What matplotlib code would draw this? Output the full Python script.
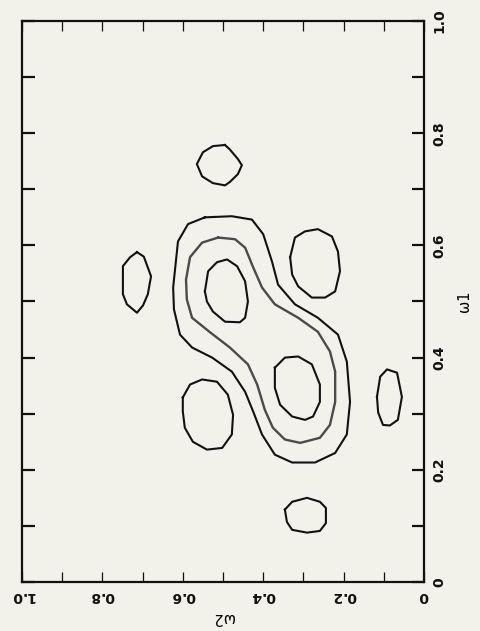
import matplotlib.pyplot as plt
from matplotlib.ticker import MultipleLocator

# contour lines, as (w2, w1) pairs
outer_w2 = [0.545, 0.478, 0.428, 0.400, 0.378, 0.363, 0.321, 0.264, 0.214, 0.192, 0.184, 0.192, 0.221, 0.271,
            0.328, 0.371, 0.403, 0.425, 0.445, 0.478, 0.527, 0.577, 0.607, 0.622, 0.624, 0.612, 0.587, 0.545]
outer_w1 = [0.650, 0.652, 0.646, 0.620, 0.571, 0.530, 0.495, 0.471, 0.441, 0.393, 0.321, 0.263, 0.230, 0.213,
            0.213, 0.227, 0.263, 0.304, 0.339, 0.375, 0.400, 0.418, 0.441, 0.486, 0.525, 0.607, 0.638, 0.650]

mid_w2 = [0.512, 0.470, 0.445, 0.425, 0.403, 0.371, 0.313, 0.264, 0.234, 0.221, 0.221, 0.234, 0.259, 0.308,
          0.346, 0.376, 0.396, 0.415, 0.438, 0.483, 0.532, 0.577, 0.590, 0.592, 0.582, 0.552, 0.512]
mid_w1 = [0.614, 0.611, 0.596, 0.561, 0.525, 0.495, 0.471, 0.446, 0.411, 0.375, 0.321, 0.280, 0.257, 0.248,
          0.254, 0.275, 0.307, 0.352, 0.388, 0.418, 0.445, 0.471, 0.504, 0.539, 0.579, 0.605, 0.614]

in1_w2 = [0.545, 0.537, 0.515, 0.490, 0.465, 0.445, 0.438, 0.445, 0.458, 0.495, 0.525, 0.540, 0.545]
in1_w1 = [0.518, 0.554, 0.570, 0.575, 0.563, 0.536, 0.500, 0.471, 0.463, 0.464, 0.482, 0.500, 0.518]

in2_w2 = [0.371, 0.346, 0.313, 0.279, 0.259, 0.259, 0.276, 0.296, 0.328, 0.358, 0.371, 0.371]
in2_w1 = [0.382, 0.400, 0.402, 0.388, 0.352, 0.321, 0.295, 0.289, 0.295, 0.316, 0.346, 0.382]

ru_w2 = [0.333, 0.321, 0.296, 0.264, 0.229, 0.214, 0.209, 0.221, 0.246, 0.279, 0.313, 0.328, 0.333]
ru_w1 = [0.579, 0.614, 0.625, 0.629, 0.616, 0.589, 0.554, 0.518, 0.507, 0.507, 0.527, 0.548, 0.579]

ll_w2 = [0.600, 0.582, 0.552, 0.515, 0.488, 0.475, 0.478, 0.502, 0.540, 0.575, 0.595, 0.600, 0.600]
ll_w1 = [0.329, 0.352, 0.361, 0.357, 0.334, 0.298, 0.263, 0.239, 0.236, 0.250, 0.275, 0.304, 0.329]

top_w2 = [0.495, 0.525, 0.550, 0.565, 0.552, 0.525, 0.495, 0.483, 0.463, 0.453, 0.463, 0.483, 0.495]
top_w1 = [0.779, 0.777, 0.766, 0.745, 0.723, 0.711, 0.707, 0.713, 0.727, 0.743, 0.754, 0.771, 0.779]

lf_w2 = [0.714, 0.697, 0.679, 0.687, 0.699, 0.714, 0.739, 0.749, 0.749, 0.731, 0.714]
lf_w1 = [0.588, 0.580, 0.545, 0.513, 0.493, 0.480, 0.495, 0.513, 0.563, 0.579, 0.588]

rs_w2 = [0.117, 0.109, 0.092, 0.067, 0.055, 0.065, 0.085, 0.102, 0.114, 0.117]
rs_w1 = [0.330, 0.366, 0.379, 0.373, 0.330, 0.289, 0.279, 0.280, 0.302, 0.330]

bt_w2 = [0.346, 0.328, 0.291, 0.259, 0.244, 0.244, 0.259, 0.291, 0.328, 0.341, 0.346]
bt_w1 = [0.129, 0.143, 0.150, 0.143, 0.132, 0.105, 0.091, 0.088, 0.093, 0.107, 0.129]

tick_vals = [0, 0.2, 0.4, 0.6, 0.8, 1.0]
tick_labels = ['0', '0.2', '0.4', '0.6', '0.8', '1.0']

bg = '#f3f2ea'
fig = plt.figure(figsize=(4.81, 6.31), dpi=100, facecolor=bg)
ax = fig.add_axes([22 / 481, 49 / 631, 402 / 481, 561 / 631], facecolor=bg)

black_lines = [(outer_w2, outer_w1), (in1_w2, in1_w1), (in2_w2, in2_w1), (ru_w2, ru_w1),
               (ll_w2, ll_w1), (top_w2, top_w1), (lf_w2, lf_w1), (rs_w2, rs_w1), (bt_w2, bt_w1)]
for xs, ys in black_lines:
    ax.plot(xs, ys, color='#111111', lw=1.5, solid_joinstyle='round')
ax.plot(mid_w2, mid_w1, color='#4a4a4a', lw=1.7, solid_joinstyle='round')

# scan is turned: w2 runs right-to-left along the bottom, w1 up the right side
ax.set_xlim(1.0, 0.0)
ax.set_ylim(0.0, 1.0)
ax.xaxis.set_minor_locator(MultipleLocator(0.1))
ax.yaxis.set_minor_locator(MultipleLocator(0.1))
ax.set_xticks(tick_vals)
ax.set_xticklabels(tick_labels, rotation=180, fontsize=10, fontweight='semibold')
ax.set_yticks(tick_vals)
ax.set_yticklabels(tick_labels, rotation=90, fontsize=10, fontweight='semibold', va='center')

ax.tick_params(which='both', direction='in', top=True, bottom=True, left=True, right=True,
               labelleft=False, labelright=True, colors='#111111')
ax.tick_params(axis='x', which='both', length=7, width=0.9, pad=5)
ax.tick_params(axis='y', which='both', length=9, width=1.6, pad=6)

for s in ax.spines.values():
    s.set_linewidth(1.6)
    s.set_color('#111111')

ax.yaxis.set_label_position('right')
ax.set_ylabel('ω1', rotation=90, fontsize=10.5, labelpad=8)
ax.set_xlabel('ω2', rotation=180, fontsize=10.5, labelpad=5)

fig.savefig('out.png', dpi=100, facecolor=bg)
